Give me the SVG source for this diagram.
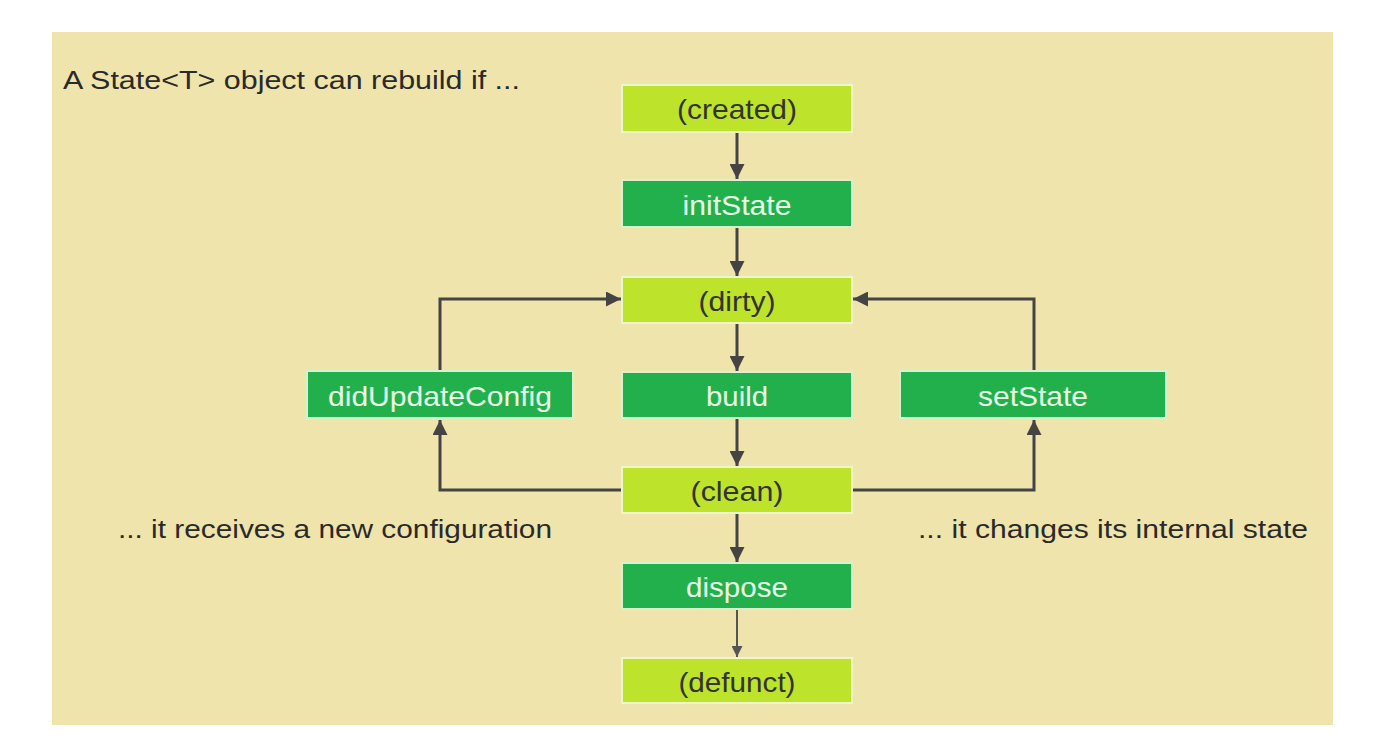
<svg xmlns="http://www.w3.org/2000/svg" width="1384" height="752" viewBox="0 0 1384 752">
<defs>
<style>
.bg{fill:#efe4ac}
.lt{fill:#bde32b;stroke:#eef7cc;stroke-width:2}
.dk{fill:#22b04c;stroke:#d8f2cf;stroke-width:2}
.tl{font-family:"Liberation Sans",Arial,sans-serif;font-size:28px;fill:#333;text-anchor:middle}
.td{font-family:"Liberation Sans",Arial,sans-serif;font-size:28px;fill:#e9fbe6;text-anchor:middle}
.cap{font-family:"Liberation Sans",Arial,sans-serif;font-size:26px;fill:#2a2a2a}
.ln{fill:none;stroke:#444;stroke-width:3}
.thin{fill:none;stroke:#555;stroke-width:2}
</style>
<marker id="ah" viewBox="0 0 10 10" refX="10" refY="5" markerWidth="5" markerHeight="5" markerUnits="strokeWidth" orient="auto">
<path d="M0,0 L10,5 L0,10 z" fill="#444"/>
</marker>
<marker id="ahs" viewBox="0 0 10 10" refX="10" refY="5" markerWidth="5.5" markerHeight="5.5" markerUnits="strokeWidth" orient="auto">
<path d="M0,0 L10,5 L0,10 z" fill="#555"/>
</marker>
</defs>
<rect width="1384" height="752" fill="#ffffff"/>
<rect class="bg" x="52" y="32" width="1281" height="693"/>

<text class="cap" x="63" y="89" textLength="457" lengthAdjust="spacingAndGlyphs">A State&lt;T&gt; object can rebuild if ...</text>
<text class="cap" x="118" y="538" textLength="434" lengthAdjust="spacingAndGlyphs">... it receives a new configuration</text>
<text class="cap" x="918" y="538" textLength="390" lengthAdjust="spacingAndGlyphs">... it changes its internal state</text>

<g id="connectors">
<line class="ln" x1="737" y1="132" x2="737" y2="179" marker-end="url(#ah)"/>
<line class="ln" x1="737" y1="227" x2="737" y2="276" marker-end="url(#ah)"/>
<line class="ln" x1="737" y1="323" x2="737" y2="371" marker-end="url(#ah)"/>
<line class="ln" x1="737" y1="418" x2="737" y2="466" marker-end="url(#ah)"/>
<line class="ln" x1="737" y1="513" x2="737" y2="562" marker-end="url(#ah)"/>
<line class="thin" x1="737" y1="609" x2="737" y2="657" marker-end="url(#ahs)"/>
<polyline class="ln" points="622,490 440,490 440,420" marker-end="url(#ah)"/>
<polyline class="ln" points="440,370 440,299 621,299" marker-end="url(#ah)"/>
<polyline class="ln" points="852,490 1034,490 1034,420" marker-end="url(#ah)"/>
<polyline class="ln" points="1034,370 1034,299 853,299" marker-end="url(#ah)"/>
</g>

<g id="created"><rect class="lt" x="622" y="85" width="230" height="47"/><text class="tl" x="737" y="119" textLength="120" lengthAdjust="spacingAndGlyphs">(created)</text></g>
<g id="initState"><rect class="dk" x="622" y="180" width="230" height="47"/><text class="td" x="737" y="215" textLength="109" lengthAdjust="spacingAndGlyphs">initState</text></g>
<g id="dirty"><rect class="lt" x="622" y="277" width="230" height="46"/><text class="tl" x="737" y="311" textLength="77" lengthAdjust="spacingAndGlyphs">(dirty)</text></g>
<g id="build"><rect class="dk" x="622" y="372" width="230" height="46"/><text class="td" x="737" y="406" textLength="62" lengthAdjust="spacingAndGlyphs">build</text></g>
<g id="clean"><rect class="lt" x="622" y="467" width="230" height="46"/><text class="tl" x="737" y="501" textLength="93" lengthAdjust="spacingAndGlyphs">(clean)</text></g>
<g id="dispose"><rect class="dk" x="622" y="563" width="230" height="46"/><text class="td" x="737" y="597" textLength="102" lengthAdjust="spacingAndGlyphs">dispose</text></g>
<g id="defunct"><rect class="lt" x="622" y="658" width="230" height="45"/><text class="tl" x="737" y="692" textLength="117" lengthAdjust="spacingAndGlyphs">(defunct)</text></g>
<g id="didUpdateConfig"><rect class="dk" x="307" y="371" width="266" height="47"/><text class="td" x="440" y="406" textLength="224" lengthAdjust="spacingAndGlyphs">didUpdateConfig</text></g>
<g id="setState"><rect class="dk" x="900" y="371" width="266" height="47"/><text class="td" x="1033" y="406" textLength="110" lengthAdjust="spacingAndGlyphs">setState</text></g>
</svg>
